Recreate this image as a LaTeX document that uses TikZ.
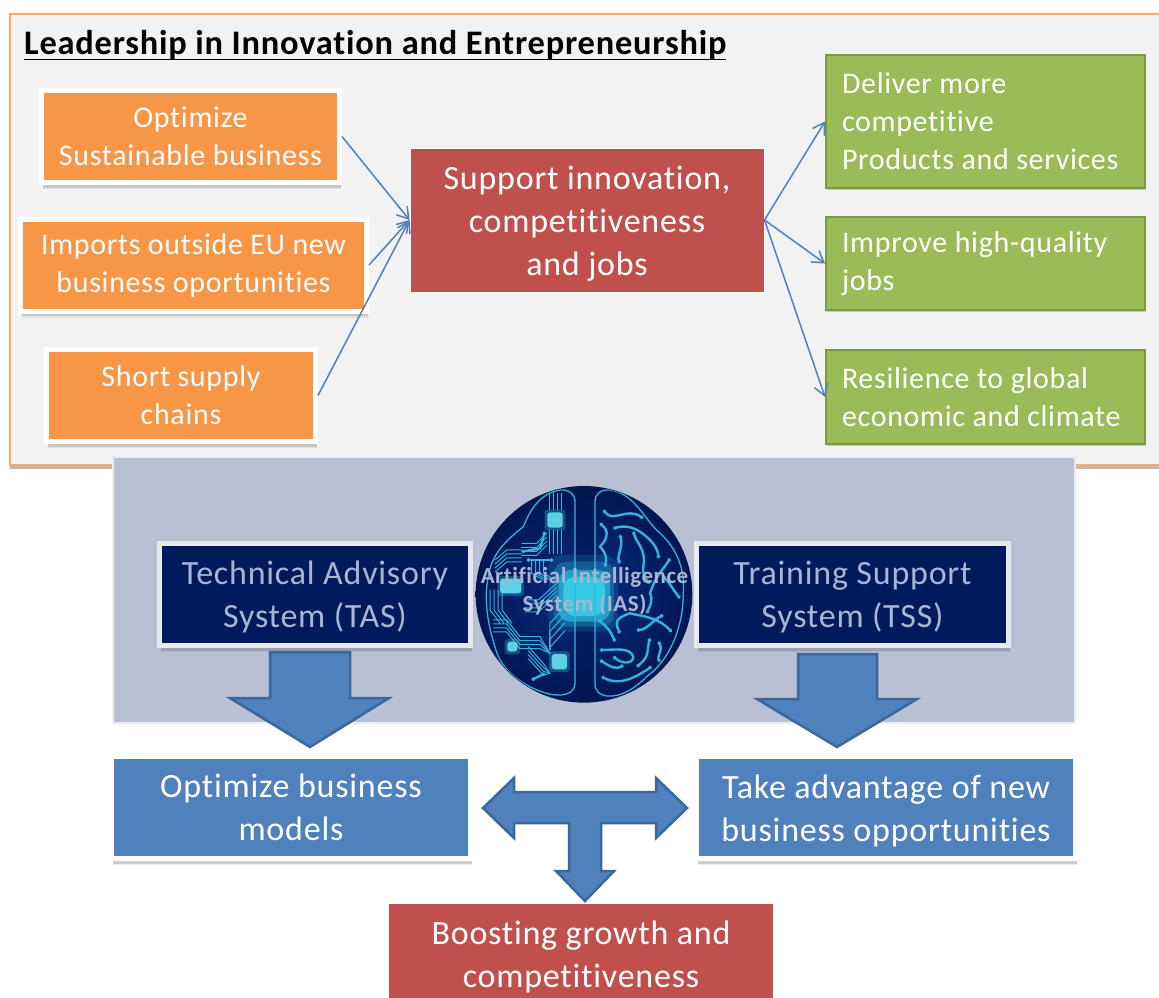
\documentclass[tikz,border=0pt]{standalone}
\usepackage{fontspec}
\setmainfont[Ligatures=NoCommon,LetterSpace=2.3]{Carlito}
\usetikzlibrary{shadows,arrows.meta}
\definecolor{cOrange}{HTML}{F79646}
\definecolor{cRed}{HTML}{C0504D}
\definecolor{cGreen}{HTML}{9BBB59}
\definecolor{cGreenD}{HTML}{7C9A42}
\definecolor{cBlue}{HTML}{4F81BD}
\definecolor{cBlueD}{HTML}{3A679E}
\definecolor{cNavy}{HTML}{001A5C}
\definecolor{cPanel}{HTML}{B9C0D4}
\definecolor{cSoft}{HTML}{A9B5D2}
\definecolor{cWire}{HTML}{33B4DE}
\definecolor{cGlow}{HTML}{34D3EA}
\definecolor{cCore}{HTML}{0A2C86}
\definecolor{cEdge}{HTML}{021650}
\newcommand{\lift}[1]{\rule{0pt}{#1pt}}
\tikzset{
  softshadow/.style={
    drop shadow={shadow xshift=1pt,shadow yshift=-6.5pt,opacity=.1,fill=black!70},
    drop shadow={shadow xshift=1pt,shadow yshift=-5pt,opacity=.18,fill=black!70}},
  thinshadow/.style={drop shadow={shadow xshift=.5pt,shadow yshift=-2pt,opacity=.25,fill=black!70}},
  boxbase/.style={inner sep=0pt,align=center,font=\fontsize{30}{38}\selectfont,text=white},
  orangebox/.style={boxbase,fill=cOrange,draw=white,line width=5pt,softshadow},
  redbox/.style={boxbase,fill=cRed,draw=white,line width=1pt,font=\fontsize{34}{43}\selectfont},
  greenbox/.style={boxbase,fill=cGreen,draw=cGreenD,line width=2pt,align=flush left,text width=287pt,thinshadow},
  navybox/.style={boxbase,fill=cNavy,draw=white!65!cPanel,line width=5pt,text=cSoft,font=\fontsize{34}{43}\selectfont,softshadow},
  bluebox/.style={boxbase,fill=cBlue,draw=white,line width=5pt,font=\fontsize{34}{43}\selectfont,softshadow},
  link/.style={draw=cBlue,line width=1.5pt,-{Straight Barb[length=11pt,width=14pt,line width=1.5pt]}},
  blockarrow/.style={fill=cBlue,draw=cBlueD,line width=2.5pt,line join=miter},
  wire/.style={draw=cWire,line width=2.4pt,line cap=round,line join=round,{Circle[length=3.5pt]}-{Circle[length=3.5pt]}},
  thinwire/.style={draw=cWire,line width=1pt,line cap=round,line join=round},
}
\begin{document}
\begin{tikzpicture}[x=1pt,y=-1pt]
\useasboundingbox (0,0) rectangle (1159,998);
\fill[white] (0,0) rectangle (1159,998);
% outer panel
\fill[black!28] (10,17) rectangle (1165,468.5);
\path[fill=black!5,draw=cOrange!80!white,line width=1.6pt] (10,14) -- (1165,14) -- (1165,465) -- (10,465) -- cycle;
\node[anchor=base west,inner sep=0pt,font=\fontsize{34.4}{40}\selectfont\bfseries,text=black] (title) at (24,55) {Leadership in Innovation and Entrepreneurship};
\draw[black,line width=1.6pt] (title.base west) ++(0,4.5) -- ++(702,0);
% left boxes
\node[orangebox,minimum width=298pt,minimum height=92pt] (o1) at (190.5,136.5) {Optimize\\Sustainable business};
\node[orangebox,minimum width=346pt,minimum height=92pt] (o2) at (193.5,265) {Imports outside EU new\\business oportunities};
\node[orangebox,minimum width=269pt,minimum height=92pt] (o3) at (181,395.5) {Short supply\\chains};
\node[redbox,minimum width=354pt,minimum height=144pt] (r1) at (587,220) {\lift{31}Support innovation,\\competitiveness\\and jobs};
\node[greenbox,minimum width=319pt,minimum height=133pt] (g1) at (985.5,121.5) {Deliver more\\competitive\\Products and services};
\node[greenbox,minimum width=319pt,minimum height=93pt] (g2) at (985.5,263.5) {Improve high-quality\\jobs};
\node[greenbox,minimum width=319pt,minimum height=94pt] (g3) at (985.5,397) {Resilience to global\\economic and climate};
\draw[link] (o1.east) -- (r1.west);
\draw[link] (o2.east) -- (r1.west);
\draw[link] (o3.east) -- (r1.west);
\draw[link] (r1.east) -- (g1.west);
\draw[link] (r1.east) -- (g2.west);
\draw[link] (r1.east) -- (g3.west);
% grey panel
\path[fill=cPanel,draw=white!70!cPanel,line width=1.5pt] (113,457) rectangle (1075,723);
% brain
\begin{scope}[shift={(450,460)},x=0.3333pt,y=-0.3333pt]
  \shade[inner color=cCore,outer color=cEdge] (402,403) circle (325);
  \begin{scope}
  \clip (402,403) circle (323);
  \fill[cEdge,opacity=.55] (378,60) rectangle (432,740);
  % glow
  \fill[cGlow,opacity=.14,rounded corners=14pt] (295,285) rectangle (505,515);
  \fill[cGlow,opacity=.25,rounded corners=12pt] (312,305) rectangle (492,500);
  \fill[cGlow,opacity=.55,rounded corners=12pt] (325,330) rectangle (480,485);
  \fill[cGlow,opacity=.85,rounded corners=12pt] (340,350) rectangle (465,468);
  % circuits
  \foreach \k in {0,12,24,36}{
    \draw[thinwire] (300+\k,150) -- (300+\k,100);
    \draw[thinwire] (300+\k,210) -- (300+\k,280);
    \draw[thinwire] (215,250+\k) -- (260,250+\k) -- (290,220+\k);
    \draw[thinwire] (135,300+\k) -- (170,270+\k) -- (215,270+\k);
    \draw[thinwire] (130,480+\k) -- (170,480+\k) -- (210,530+\k) -- (270,530+\k) -- (300,580);
    \draw[thinwire] (235,560+\k) -- (280,610+\k) -- (300,640);
    \draw[thinwire] (345,440+\k*2) -- (300,490+\k*2) -- (300,570);
    \draw[thinwire] (225,420+\k) -- (265,420+\k) -- (320,370+\k);
    \draw[thinwire] (150,620+\k) -- (195,655+\k);
    \draw[thinwire] (120+\k,390) -- (120+\k,450) -- (150+\k,490);
    \draw[thinwire] (245+\k,300) -- (245+\k,340) -- (280+\k,360);
  }
  \draw[wire] (215,275) -- (270,265) -- (285,215);
  \draw[wire] (245,660) -- (285,640);
  \draw[wire] (230,300) -- (310,300);
  % chips
  \foreach \cx/\cy/\w/\h in {315/180/46/46,182/378/64/44,187/560/30/30,328/605/46/46}{
    \fill[cGlow,opacity=.3,rounded corners=3pt] (\cx-\w*.5-8,\cy-\h*.5-8) rectangle (\cx+\w*.5+8,\cy+\h*.5+8);
    \fill[cGlow!75!white,opacity=.9,rounded corners=3pt] (\cx-\w*.5,\cy-\h*.5) rectangle (\cx+\w*.5,\cy+\h*.5);
  }
  % outlines
  \draw[thinwire,line width=1.3pt] (435,670) -- (435,125) .. controls (435,100) and (455,88) .. (480,90) .. controls (550,100) and (580,170) .. (620,210) .. controls (690,270) and (705,340) .. (700,400) .. controls (700,500) and (660,600) .. (590,650) .. controls (550,690) and (510,712) .. (470,708) .. controls (450,705) and (435,695) .. (435,670);
  \draw[thinwire,line width=1.3pt] (375,670) -- (375,125) .. controls (375,100) and (355,88) .. (330,90) .. controls (270,100) and (240,150) .. (220,200) .. controls (170,240) and (125,280) .. (115,350) .. controls (100,420) and (115,500) .. (135,560) .. controls (150,630) and (220,680) .. (290,700) .. controls (330,712) and (375,705) .. (375,670);
  % brain folds
  \draw[wire] (460,150) .. controls (490,190) and (530,140) .. (580,175);
  \draw[wire] (490,205) .. controls (530,195) and (560,200) .. (600,240) .. controls (620,260) and (625,280) .. (625,295);
  \draw[wire] (450,190) .. controls (480,215) and (470,240) .. (450,260) .. controls (470,280) and (470,300) .. (465,320);
  \draw[wire] (510,225) .. controls (520,260) and (500,290) .. (510,310);
  \draw[wire] (550,215) .. controls (560,250) and (590,270) .. (580,320) .. controls (575,340) and (590,360) .. (600,370);
  \draw[wire] (660,295) .. controls (640,330) and (620,340) .. (600,400) .. controls (610,420) and (600,440) .. (590,460);
  \draw[wire] (640,350) .. controls (660,370) and (670,390) .. (690,415);
  \draw[wire] (510,520) .. controls (490,480) and (510,470) .. (540,460) .. controls (580,470) and (620,470) .. (665,515);
  \draw[wire] (560,510) .. controls (590,510) and (610,480) .. (640,465);
  \draw[wire] (450,570) .. controls (490,570) and (540,560) .. (550,590) .. controls (550,610) and (520,615) .. (490,590);
  \draw[wire] (600,535) .. controls (590,570) and (600,590) .. (560,620);
  \draw[wire] (625,545) .. controls (640,570) and (620,590) .. (630,605);
  \draw[wire] (450,600) .. controls (480,620) and (500,630) .. (520,615);
  \draw[wire] (455,650) .. controls (510,680) and (560,650) .. (605,620);
  \draw[wire] (445,480) .. controls (470,500) and (480,510) .. (495,545);
  \end{scope}
\end{scope}
\node[inner sep=0pt,align=center,text=cSoft,font=\fontsize{23}{28}\selectfont\bfseries] (ai) at (584.5,591) {Artificial Intelligence\\System (IAS)};
% system boxes
\node[navybox,minimum width=311pt,minimum height=102pt] (tas) at (315,594.5) {\lift{29}Technical Advisory\\System (TAS)};
\node[navybox,minimum width=312pt,minimum height=102pt] (tss) at (852.5,594.5) {\lift{29}Training Support\\System (TSS)};
% down arrows
\path[blockarrow] (270,652) -- (350,652) -- (350,698) -- (389,698) -- (310,747) -- (230,698) -- (270,698) -- cycle;
\path[blockarrow] (798,654) -- (877,654) -- (877,699) -- (917,699) -- (837,747) -- (757,699) -- (798,699) -- cycle;
% results
\node[bluebox,minimum width=359pt,minimum height=102pt] (b1) at (291,807.5) {Optimize business\\models};
\node[bluebox,minimum width=379pt,minimum height=102pt] (b2) at (886,807.5) {\lift{30}Take advantage of new\\business opportunities};
\node[redbox,draw=none,minimum width=384pt,minimum height=94pt] (r2) at (581,951) {\lift{35}Boosting growth and\\competitiveness};
% T arrow
\path[blockarrow] (483,808) -- (514,778) -- (514,792) -- (656,792) -- (656,778) -- (687,808) -- (656,838) -- (656,823) -- (601,823) -- (601,871) -- (614,871) -- (585,901) -- (556,871) -- (569,871) -- (569,823) -- (514,823) -- (514,838) -- cycle;
\end{tikzpicture}
\end{document}
